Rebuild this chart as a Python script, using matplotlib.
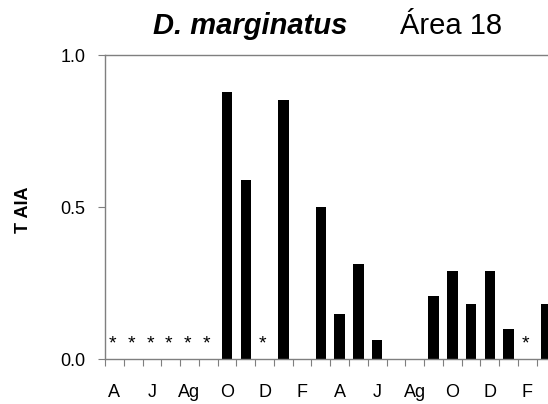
import numpy as np
import matplotlib.pyplot as plt

# monthly samples, April to March, two years
months = ["Apr", "May", "Jun", "Jul", "Aug", "Sep", "Oct", "Nov", "Dec", "Jan", "Feb", "Mar",
          "Apr", "May", "Jun", "Jul", "Aug", "Sep", "Oct", "Nov", "Dec", "Jan", "Feb", "Mar"]
taia = [0, 0, 0, 0, 0, 0, 0.878, 0.589, 0, 0.851, 0, 0.499,
        0.148, 0.313, 0.063, 0, 0, 0.209, 0.291, 0.181, 0.291, 0.099, 0, 0.181]
# months with no sample (marked with *)
no_sample = [0, 1, 2, 3, 4, 5, 8, 22]
month_labels = ["A", "J", "Ag", "O", "D", "F", "A", "J", "Ag", "O", "D", "F"]
yticks = [0.0, 0.5, 1.0]

plt.rcParams['font.family'] = ['Liberation Sans', 'DejaVu Sans']

fig = plt.figure(figsize=(5.48, 4.04), dpi=100)
ax = fig.add_axes([105 / 548, 44.7 / 404, 450.5 / 548, 304.3 / 404])

x = np.arange(len(months))
ax.bar(x, taia, width=0.56, color='black')
for i in no_sample:
    ax.text(i - 0.1, 0.052, '*', ha='center', va='center', fontsize=14)

ax.set_xlim(-0.5, len(months) - 0.5)
ax.set_ylim(0, 1.0)

# ticks on month boundaries, labels every second month
ax.set_xticks(np.arange(len(months) + 1) - 0.5)
ax.set_xticklabels([])
ax.set_xticks(x[::2], minor=True)
ax.set_xticklabels(month_labels, minor=True, fontsize=13)
ax.tick_params(axis='x', which='major', length=5, width=0.8, color='#7f7f7f', direction='out')
ax.tick_params(axis='x', which='minor', length=0, pad=18)

ax.set_yticks(yticks)
ax.set_yticklabels(["%.1f" % v for v in yticks], fontsize=13)
ax.tick_params(axis='y', length=5, width=0.8, color='#7f7f7f', pad=9)

for s in ['left', 'bottom', 'top', 'right']:
    ax.spines[s].set_color('#7f7f7f')
    ax.spines[s].set_linewidth(1.0)

fig.text(23 / 548, 1 - 210 / 404, 'T AIA', rotation=90, fontsize=13, fontweight='bold',
         ha='center', va='center')

fig.text(153 / 548, 1 - 34.3 / 404, 'D. marginatus', fontsize=21, fontweight='bold',
         fontstyle='italic', ha='left', va='baseline')
fig.text(400 / 548, 1 - 34.3 / 404, 'Área 18', fontsize=21, ha='left', va='baseline')

fig.savefig('out.png', dpi=100)
